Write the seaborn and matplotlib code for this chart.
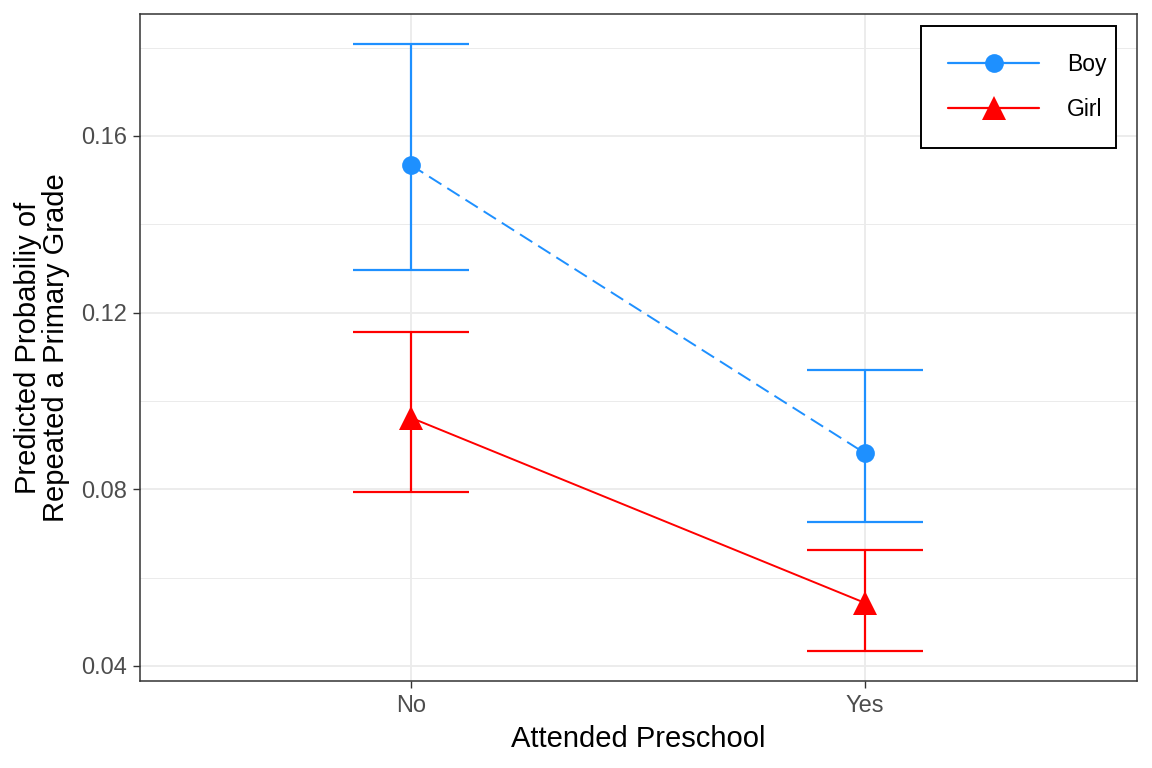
import matplotlib
matplotlib.use("Agg")
import matplotlib.pyplot as plt
import seaborn as sns
import pandas as pd
from matplotlib.lines import Line2D
from matplotlib.ticker import FixedLocator, FormatStrFormatter

# ---- data ----
preschool = ["No", "Yes"]
sexes = ["Boy", "Girl"]
boy_prob = [0.1534, 0.0882]
boy_lower = [0.1297, 0.0726]
boy_upper = [0.1809, 0.1070]
girl_prob = [0.0962, 0.0543]
girl_lower = [0.0794, 0.0434]
girl_upper = [0.1156, 0.0663]
y_ticks = [0.04, 0.08, 0.12, 0.16]
y_minor = [0.06, 0.10, 0.14, 0.18]
colors = {"Boy": "#1E90FF", "Girl": "#FF0000"}
markers = {"Boy": "o", "Girl": "^"}

df = pd.DataFrame({
    "preschool": preschool * 2,
    "sex": ["Boy"] * len(preschool) + ["Girl"] * len(preschool),
    "prob": boy_prob + girl_prob,
    "lower": boy_lower + girl_lower,
    "upper": boy_upper + girl_upper,
})

sns.set_theme(style="white")
plt.rcParams["font.family"] = ["Liberation Sans", "DejaVu Sans"]
plt.rcParams["lines.scale_dashes"] = False

W, H = 1152, 768
fig = plt.figure(figsize=(W / 100, H / 100), dpi=100)
ax = fig.add_axes([140 / W, 1 - 681 / H, 997 / W, 667 / H])

lw = 1.6
# error bars
for s in sexes:
    sub = df[df["sex"] == s]
    xpos = [preschool.index(p) for p in sub["preschool"]]
    ax.errorbar(xpos, sub["prob"],
                yerr=[sub["prob"] - sub["lower"], sub["upper"] - sub["prob"]],
                fmt="none", ecolor=colors[s], elinewidth=lw,
                capsize=41.5, capthick=lw, zorder=2)

sns.pointplot(data=df, x="preschool", y="prob", hue="sex",
              order=preschool, hue_order=sexes, palette=colors,
              markers=[markers[s] for s in sexes], linestyles=["--", "-"],
              errorbar=None, dodge=False, ax=ax, legend=False,
              linewidth=1.4, markersize=13.5, markeredgewidth=0)

for line in ax.lines:
    line.set_zorder(3)
    if line.get_marker() == "^":
        line.set_markersize(17.5)
    if line.get_linestyle() == "--":
        line.set_dashes([10.5, 5])

# axes limits & ticks
ax.set_xlim(-0.597, 1.6)
ax.set_ylim(0.0366, 0.1876)
ax.yaxis.set_major_locator(FixedLocator(y_ticks))
ax.yaxis.set_minor_locator(FixedLocator(y_minor))
ax.yaxis.set_major_formatter(FormatStrFormatter("%.2f"))

ax.set_axisbelow(True)
ax.grid(True, which="major", axis="both", color="#EBEBEB", linewidth=1.3)
ax.grid(True, which="minor", axis="y", color="#EBEBEB", linewidth=0.7)
ax.tick_params(axis="both", which="major", length=5, width=1.0,
               color="#333333", labelsize=17, labelcolor="#4D4D4D", pad=4,
               left=True, bottom=True)
ax.tick_params(axis="x", which="major", pad=5)
ax.tick_params(axis="both", which="minor", length=0)
for sp in ax.spines.values():
    sp.set_visible(True)
    sp.set_color("#333333")
    sp.set_linewidth(1.1)
ax.set_facecolor("white")

ax.set_xlabel("Attended Preschool", fontsize=21, color="black", labelpad=6)
ax.set_ylabel("Predicted Probabiliy of\nRepeated a Primary Grade",
              fontsize=21, color="black", labelpad=8, linespacing=1.0)

# legend
handles = [Line2D([0], [0], color=colors[s], marker=markers[s], linewidth=lw,
                  markersize=(13.5 if s == "Boy" else 17.5), markeredgewidth=0)
           for s in sexes]
x0, x1 = 921 / W, 1116 / W
y1 = 1 - 26 / H
leg = fig.legend(handles, sexes, loc="upper left",
                 bbox_to_anchor=(x0, y1 - 0.2, x1 - x0, 0.2),
                 mode="expand", borderaxespad=0, fontsize=16.5,
                 handlelength=4.0, handletextpad=1.2, labelspacing=0.98,
                 borderpad=1.17, frameon=True, fancybox=False, shadow=False,
                 framealpha=1, labelcolor="black")
leg.get_frame().set_edgecolor("black")
leg.get_frame().set_linewidth(1.4)

fig.savefig("out.png", dpi=100)
